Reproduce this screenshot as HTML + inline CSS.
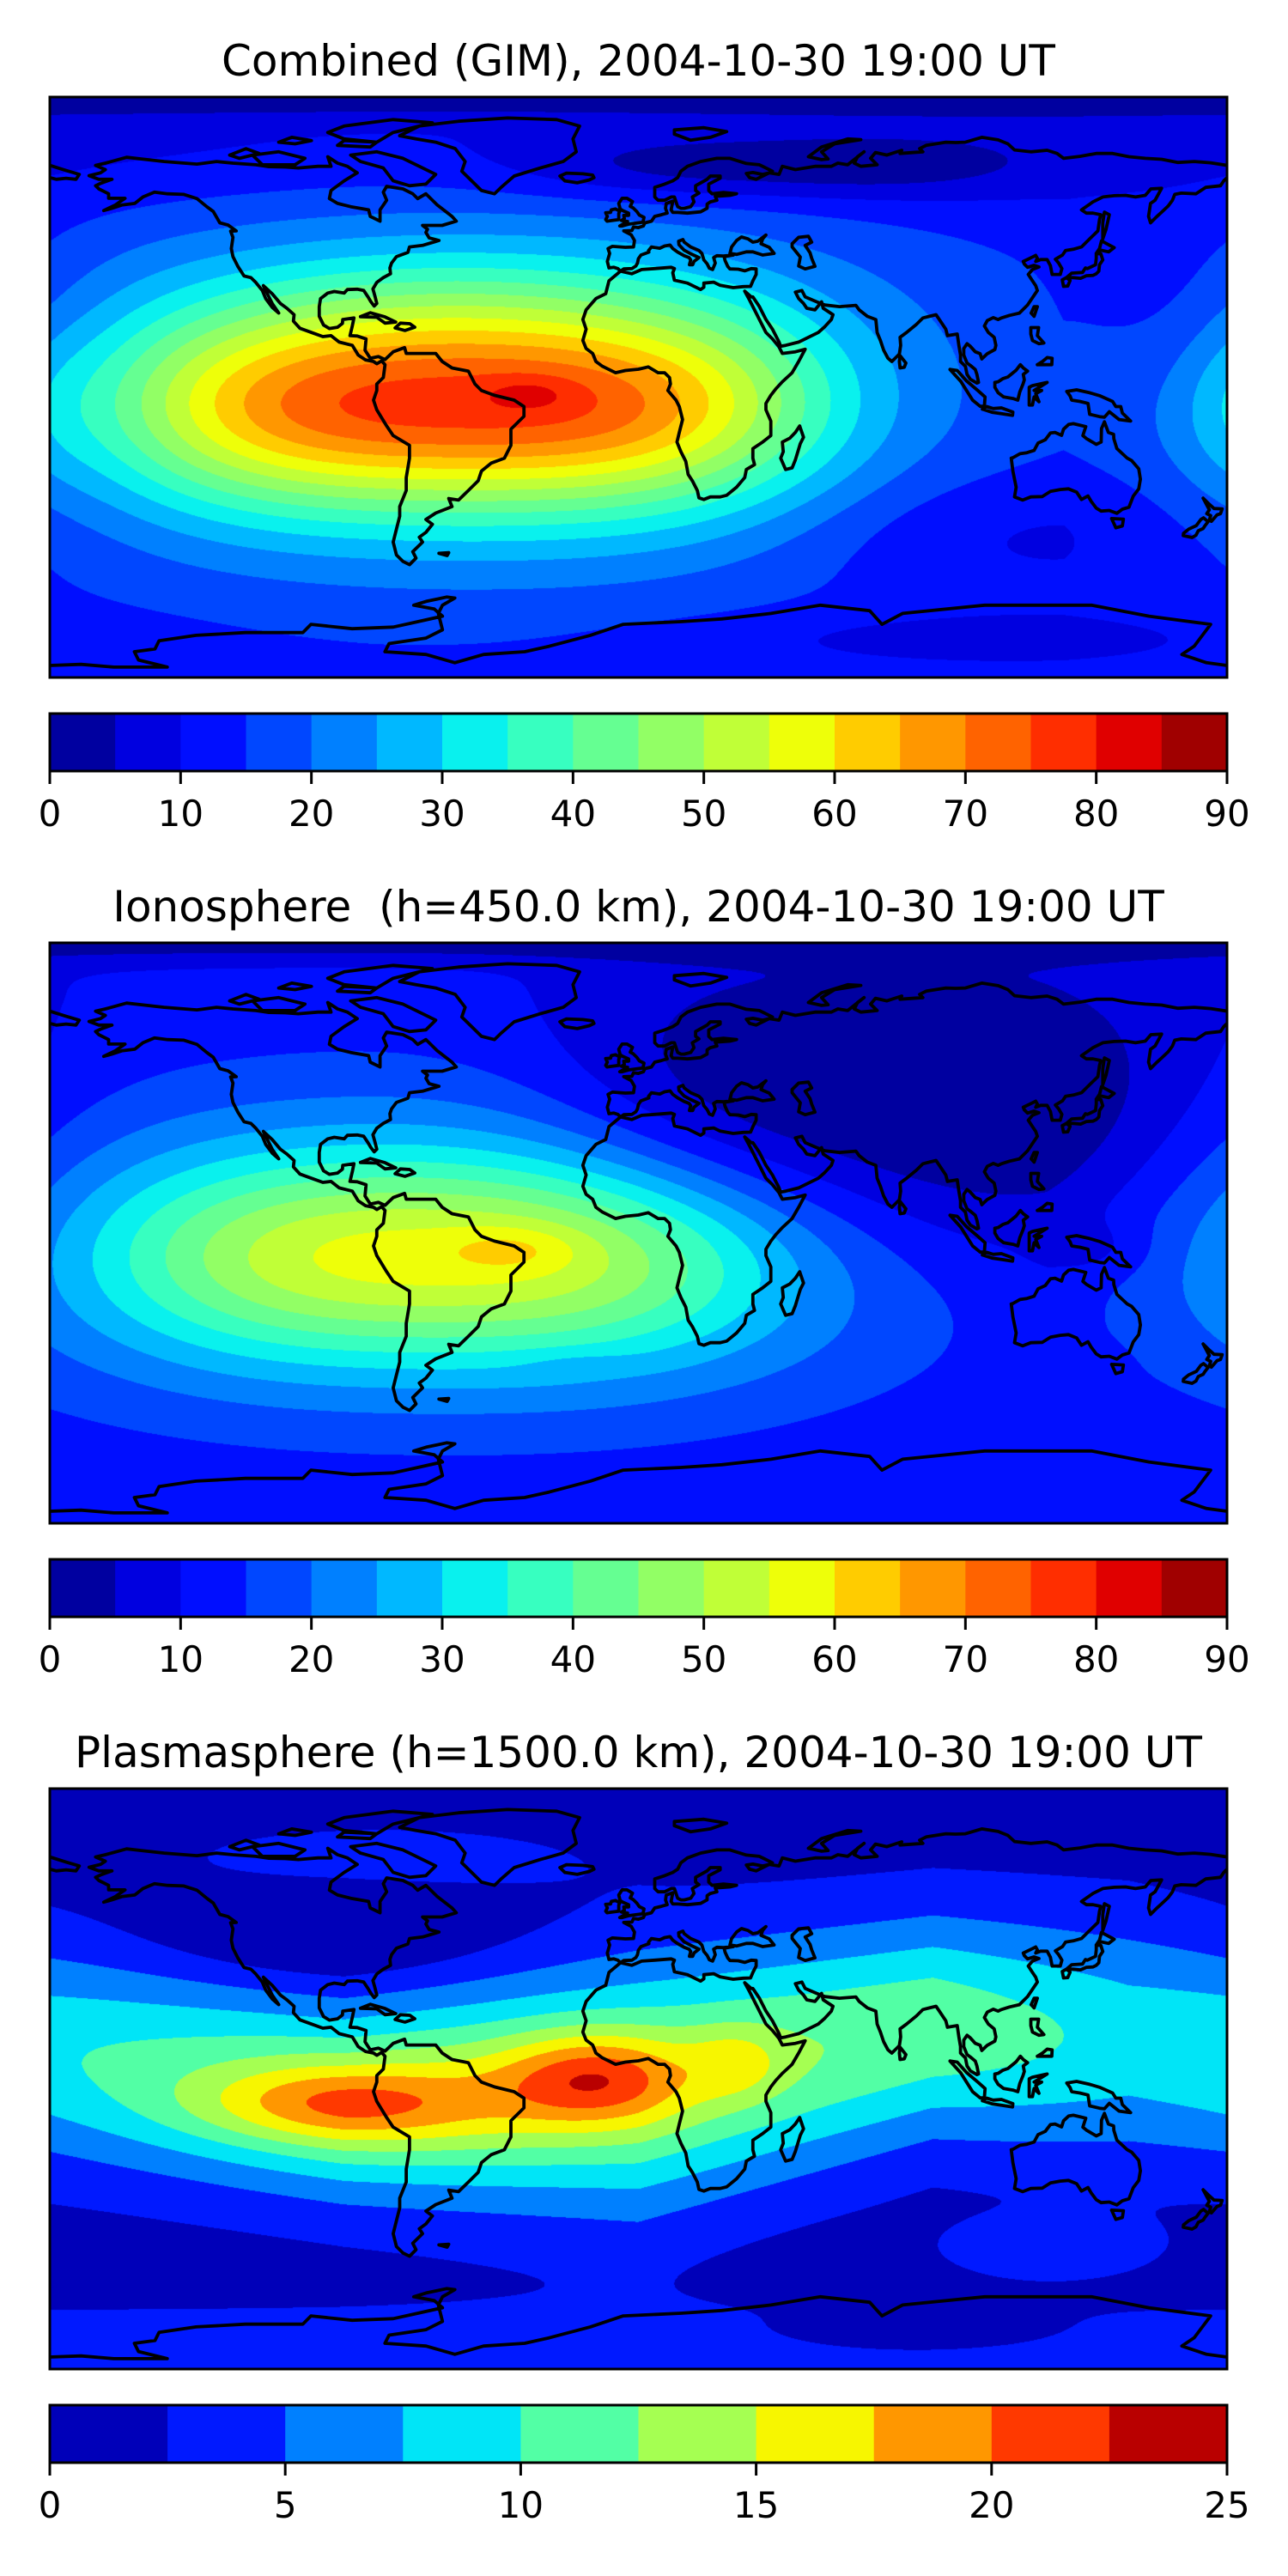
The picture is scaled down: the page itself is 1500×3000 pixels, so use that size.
<!DOCTYPE html>
<html><head><meta charset="utf-8">
<style>
html,body{margin:0;padding:0;background:#fff;}
#page{position:relative;width:1500px;height:3000px;overflow:hidden;font-family:"DejaVu Sans","Liberation Sans",sans-serif;}
canvas{position:absolute;left:58px;}
svg{position:absolute;left:0;top:0;}
</style></head>
<body>
<div id="page">
<canvas id="c1" width="1371" height="676" style="top:113px"></canvas>
<canvas id="c2" width="1371" height="676" style="top:1098px"></canvas>
<canvas id="c3" width="1371" height="676" style="top:2083px"></canvas>
<svg id="ov" width="1500" height="3000" xmlns="http://www.w3.org/2000/svg">
<text x="743.5" y="88" font-size="50" text-anchor="middle" fill="#000" font-family="DejaVu Sans, Liberation Sans, sans-serif">Combined (GIM), 2004-10-30 19:00 UT</text>
<text x="743.5" y="1073" font-size="50" text-anchor="middle" fill="#000" font-family="DejaVu Sans, Liberation Sans, sans-serif" xml:space="preserve">Ionosphere  (h=450.0 km), 2004-10-30 19:00 UT</text>
<text x="743.5" y="2058" font-size="50" text-anchor="middle" fill="#000" font-family="DejaVu Sans, Liberation Sans, sans-serif">Plasmasphere (h=1500.0 km), 2004-10-30 19:00 UT</text>
</svg>
</div>
<script>
// ---------- data ----------
const levels1 = [0,5,10,15,20,25,30,35,40,45,50,55,60,65,70,75,80,85,90];
const ticks1 = [0,10,20,30,40,50,60,70,80,90];
const levels3 = [0,2.5,5,7.5,10,12.5,15,17.5,20,22.5,25];
const ticks3 = [0,5,10,15,20,25];

// panel 1 (combined) blobs
const p1Base = 12;
const p1Lon = [-55,-50,-33,0,40,0,110,165,180,100,-60];
const p1Lat = [-6,0,-2,90,68,75,-45,25,-5,-78,25];
const p1Amp = [44,22,5,-10,-9,-5,-5,-4,4,-5,4];
const p1SLon = [85,100,10,1e4,60,1e4,45,20,12,60,40];
const p1SLat = [22,40,4,4,7,15,14,20,18,6,12];
const p1Pow = [3.5,2,2,2,3,2,2,2,2,2,2];

// panel 2 (ionosphere) blobs
const p2Base = 10;
const p2Lon = [-60,-55,-38,70,0,140,130,-20];
const p2Lat = [-8,-5,-5,35,90,-5,-40,-40];
const p2Amp = [30,18,6,-16,-8,-4,-3,-2];
const p2SLon = [80,120,14,75,1e4,12,10,12];
const p2SLat = [22,38,5,32,4,6,4,3];
const p2Pow = [3,2,2,3,2,2,2,2];

// panel 3 (plasmasphere) band + blobs
const bandLon = [-180,-90,0,90,150,180];
const bandCenter = [8,-6,-2,16,12,8];
const bandPeak = [9.5,12,13,12,9,9.5];
const bandWidth = [24,22,28,24,26,24];
const p3Base = 1.2;
const p3Lon = [-92,-70,-13,30,125,0,85,-80,-95];
const p3Lat = [-8,-8,0,5,-52,-90,-80,68,45];
const p3Amp = [6,3.5,8.5,3.5,2.5,3,-2,2.5,-3];
const p3SLon = [30,45,20,10,25,1e4,35,45,35];
const p3SLat = [8,14,10,8,7,14,5,8,10];
const p3Pow = [2,2,2,2,2,2,2,2,2];

// ---------- coastlines (lon, lat) ----------
const coasts = [
 [[-86,66.5],[-90,64],[-94,61],[-94.5,58.5],[-92,57],[-88,56],[-82.5,55],[-82,53],[-79,51.5],[-79,55],[-77,58],[-78,60.5],[-77,62.3],[-72,61.5],[-69,60],[-67.5,58.5],[-65,60],[-61.5,56.5],[-57,53],[-55.7,51.5],[-60,50.2],[-66,50.2],[-64.5,49],[-65,48],[-64,46.3],[-61,45.5],[-66,44],[-70,43.5],[-70.5,41.8],[-74,40.5],[-75.5,38.5],[-76,37],[-75.8,35.2],[-78,34],[-80,32.5],[-81.2,30.5],[-80.5,28],[-80,26],[-80.8,25.2],[-81.8,26.5],[-82.7,28],[-84,30],[-86,30.4],[-89,30.3],[-90,29.2],[-93,29.7],[-95,29.2],[-97.2,27.5],[-97.6,25],[-97.6,22],[-96.3,19.3],[-94.5,18.2],[-92,18.6],[-90.5,19.8],[-90.4,21],[-87,21.5],[-87.5,19],[-88.2,16],[-86,15.9],[-83.3,15],[-83.6,11.5],[-82,9],[-79.5,9.5],[-77.5,8.6],
  [-75,11],[-71.5,12.3],[-71,10.5],[-68,10.5],[-62,10.5],[-60,8],[-57,6],[-52,5],[-50,1],[-48,-1],[-44,-2.5],[-38,-4],[-35,-6],[-35,-9],[-39,-13],[-39,-18],[-41,-22],[-45,-23.5],[-48,-26],[-49,-29],[-52,-32],[-55,-35],[-58,-34.5],[-57,-37],[-62,-39],[-65,-41],[-63,-42.5],[-65,-45],[-67,-46.5],[-66,-48],[-69,-51],[-68,-53],[-70,-55],[-72,-54],[-74,-52],[-75,-48],[-74,-44],[-73,-40],[-73,-37],[-71,-32],[-71,-28],[-70,-22],[-70,-18],[-75,-15],[-77,-12],[-80,-7],[-81,-4],[-80,-1],[-80,1],[-78,3],[-77.5,7],
  [-78.5,8.2],[-80,7.3],[-81,8],[-83.5,8.5],[-85.7,10],[-87.5,13],[-91.5,14],[-94,16],[-96.5,15.7],[-100,17],[-103.5,18.3],[-105.5,20.5],[-105.3,22.5],[-107.5,24.5],[-109.5,26],[-112,29],[-114.7,31.5],[-113,28],[-112,26],[-110,23],[-112,24.8],[-114,27.5],[-115,30],[-117,32.5],[-118.5,34],[-120.6,34.5],[-122.5,37.5],[-124,40.5],[-124.5,43],[-124,46.5],[-124.7,48.4],[-123,48.5],[-125.5,50.3],[-128,51],[-130,54.5],[-132,56],[-135,58.5],[-139,59.8],[-144,60],[-148,60.5],[-151.5,59],[-154,57],[-158,56.5],[-161,55.5],[-163.5,54.8],[-160,56.5],[-157,58.6],[-162,58.6],[-162,60],[-165,61.5],[-166,62.5],[-164.5,63.2],[-161,64.5],[-165,64.5],[-168,65.6],[-164.5,66.5],[-163,67.5],[-166,68.8],[-163,69.5],[-156.5,71.3],[-152,70.8],[-145,70],[-140,69.6],[-135,69.2],[-129,70],[-124,69.5],[-117,69],[-113,68.4],[-108,68.3],[-104,68],[-98,68.5],[-94,68.5],[-95,71.5],[-92,69.5],[-89,68.5],[-86,66.5]],
 [[-73,78],[-67,81],[-55,82.5],[-40,83.5],[-25,83],[-18,81],[-20,77],[-19,73],[-23,70],[-30,68],[-38,65.5],[-42,62],[-44,60],[-48,61],[-51,64],[-54,67],[-53,70],[-56,74],[-62,76],[-68,77],[-73,78]],
 [[-80,73],[-72,71],[-66,68],[-62,66],[-65,63],[-70,62.5],[-75,64],[-78,68],[-85,70],[-88,72],[-80,73]],
 [[-118,72],[-110,73],[-102,71],[-105,69],[-115,69],[-118,72]],
 [[-90,77],[-80,76],[-75,79],[-63,82],[-75,83],[-90,81],[-95,79],[-90,77]],
 [[-125,72],[-120,74],[-116,72.5],[-122,71],[-125,72]],
 [[-92,75],[-82,74.5],[-80,76],[-90,76.5],[-92,75]],
 [[-110,76],[-105,75.5],[-100,76.5],[-106,77.5],[-110,76]],
 [[-85,21.9],[-82,23.1],[-77.5,21.8],[-74.2,20.2],[-77.5,19.9],[-80,21.7],[-85,21.9]],
 [[-74.4,18.4],[-72.8,19.9],[-69.9,19.7],[-68.4,18.6],[-71.4,17.6],[-74.4,18.4]],
 [[-5.5,36],[-9,33],[-10,29],[-13,27.5],[-16,24],[-17,21],[-16,18],[-17,14.5],[-16,12],[-14,10.5],[-13,8],[-11,6.5],[-7,4.5],[-4,5.2],[0,5.6],[3,6.3],[6,4.5],[8,4.5],[9.5,3],[9.8,1],[9,-1],[11.5,-4],[12.5,-6],[13.5,-10],[12.5,-14],[11.8,-17],[13,-20],[14.5,-23],[15.2,-27],[16.5,-29],[18,-32],[18.5,-34.3],[20,-34.8],[22,-34],[25,-34],[27,-33.5],[30,-31],[32.5,-28],[33,-25.5],[35.5,-24],[35,-22],[35,-19],[38,-17],[40.5,-15],[40.5,-10.5],[39,-7],[39,-5],[40.5,-2.5],[42,-0.5],[44,1.7],[47,4.5],[49,8],[51,11.8],[48,11],[44,10.5],[43,12.5],[41,15],[39,17],[37,21],[35.5,24],[34,27],[32.5,29.8],[34.5,28],[35,28],[37,25],[39,21],[41,18],[43,14],[43.5,12.7],[45,13],[49,14],[52,15.5],[55,17],[57,18.8],[59,21],[59.5,22.5],[56.5,24.5],[56,26.5],[54,24],[51.5,24.5],[50.5,26],[49,27.5],[48,29.5],[50,30],[51,28],[54.5,26.5],[57,25.5],[61.5,25],[66.5,25.4],[67.5,24],[70,22],[72.6,21],[73,17],[74,14.5],[75,11.5],[76.3,9],[77.5,8],[78.5,9],[79.8,10.3],[80.2,13],[80,15.5],[82,17],[85,19.5],[87,21.5],[89,22],[91,22.5],[92,21],[94,18],[94.5,16],[97.5,16.5],[98,13],[98.5,10],[98.5,8],[100,6.5],[100.5,4],[101.5,2.5],[103.5,1.3],[104,1.5],[103.5,4],[103,5.5],[101.5,6.8],[100.5,7.5],[99.5,10],[99.5,12],[100.5,13.5],[101.5,12.7],[103,11],[104.5,10.4],[105,8.8],[106.7,10.4],[109,11.7],[109.3,13],[108.8,15.5],[107,17],[105.8,19],[106.7,20.7],[108.5,21.6],[110,21],[111,21.5],[113.5,22.3],[116.5,23],[119,25.5],[120,27],[122,30],[121.5,31.5],[120.5,33],[119.2,35],[120.5,36.5],[122.5,37.3],[121,37.8],[119,37.2],[118,38.2],[117.7,39],[119.5,39.9],[121.5,40.9],[122,40],[121.5,39],[123,39.6],[125,39.6],[126,37.7],[126.5,35],[129,35],[129.5,36.8],[128.5,38.5],[127.5,39.7],[129.7,41],[130.6,42.4],[133,42.8],[135.5,43.5],[138,46],[140.5,48.5],[141,52],[141.4,53.5],[139,54],[137,54],[135.5,55],[139,57.5],[142,59],[145.5,59.4],[149,59.5],[152,59],[155,59.5],[156.7,61.5],[160,61.7],[158,58],[156.6,57],[156,53],[156.6,51],[158.5,52.9],[160,54.3],[162,56.2],[163.3,58],[164,59.8],[166,60.2],[170.5,60],[173.5,62],[178,62.5],[179,64],[180,65]],
 [[180,68.8],[175,69.6],[170,70],[165,69.7],[160,70.7],[155,71],[150,71.5],[145,72.5],[140,72.5],[135,71.6],[130,71],[128,72.5],[125,73.5],[120,73],[115,73.6],[113,75.5],[110,76.7],[105,77.5],[100,76],[97,75.9],[94,76],[88,75],[86,74],[87,73],[80,72.5],[80.5,73.5],[76,72],[72.5,72.8],[71,71],[73,69],[68,68.5],[66,69.5],[67,71.5],[69,73],[64,69],[61,69.5],[59,68.5],[54,68.5],[48,67.5],[44,68.5],[43,66],[40,66.5],[38,66],[35,66.6],[33,66.3],[34,65],[36,64.5],[41,67],[37,69],[33,69.4],[28,71],[24,71],[19,70],[15,68.5],[13,67],[12,65],[10.5,64],[8,63],[5,62],[5,59],[6,58],[8,58],[10,59],[11,59],[12,56],[13,55.5],[14,55.5],[16,56],[17,57.5],[16.5,59],[18.5,60.2],[17.5,61],[17.5,62.5],[21,64.5],[22,65.5],[25,65.5],[25,64.8],[21.5,63],[21.5,61],[22.5,60],[26,60.4],[30,60],[28,59.5],[23.5,59.2],[24,58],[22,57.5],[21,56.8],[21,55.5],[19,54.4],[15,54],[12,54.2],[10.5,54.2],[10,55],[10.5,57.7],[8.5,57],[8.3,55.5],[8.8,54],[7,53.5],[5,53],[4,51.5],[2,51],[1.5,50],[0,49.5],[-1.5,49.7],[-2,48.6],[-4.5,48.5],[-2.2,47.3],[-1.2,45.5],[-1.5,43.5],[-4,43.4],[-8,43.7],[-9.3,43],[-8.8,41.5],[-9.5,39],[-9,37],[-7.5,37.2],[-6.3,36.8],[-5.5,36]],
 [[-180,65],[-178,64.5],[-175,64.8],[-172,64.5],[-171,66],[-175,67.2],[-180,68.8]],
 [[-5.5,36],[-2,35.2],[1,36.5],[5,36.8],[10,37.2],[11,36.8],[10.5,35.5],[11,33.2],[15,32.3],[19,30.3],[20,31],[20,32.3],[23,32.6],[25,31.6],[29,30.9],[32,31.2],[34.3,31.3],[35,33],[36,35],[36,36.7],[34.5,36.8],[32.5,36.1],[30.5,36.6],[28,36.7],[27.3,37.5],[26.5,39.3],[26.2,40.5],[29,41],[26,40.7],[24,40.8],[23,40.2],[23.5,38.5],[22.7,36.5],[21.7,36.9],[21,38.3],[20,39.5],[19.4,41.5],[18.5,42.4],[16,43.5],[14,45],[13.6,45.8],[12.3,45.3],[12.4,44.2],[14,42.5],[16,41.4],[18.5,40.2],[17,39],[16.6,38],[15.6,38],[16,39.5],[15.5,40.2],[14,40.8],[12,41.9],[10.5,43],[9.7,44.1],[8,43.8],[6.5,43.1],[4,43.5],[3.1,42.4],[3.2,41.9],[0.8,41],[0,39.9],[-0.3,38.5],[-0.8,37.6],[-2,36.8],[-4.5,36.7],[-5.5,36]],
 [[28,41.5],[28.5,43.5],[30,45.5],[31.5,46.6],[33.5,46],[35,45],[36.5,45.3],[39,47.2],[38,46],[37.5,44.5],[40,43.4],[41.5,41.5],[38,41],[35,42],[33,42],[30,41.2],[28,41.5]],
 [[47,44.5],[49,46.5],[52,46.8],[53,45],[51,44],[52.5,41.7],[53,40],[54,37.5],[51,36.7],[49,37.6],[49.5,40.4],[47,43.5],[47,44.5]],
 [[-5,50],[-3,50.6],[1.4,51.2],[1.7,52.7],[0.3,53.4],[-0.5,54.5],[-1.6,55.6],[-2.5,56.1],[-1.8,57.6],[-3.5,58.6],[-5,58.6],[-6,57],[-5.6,55.3],[-4.8,54.8],[-3,54],[-3,53.3],[-4.5,53.3],[-4.3,52.3],[-5.2,51.7],[-3.3,51.4],[-5.7,50],[-5,50]],
 [[-6,52],[-6,53.9],[-5.7,54.6],[-7,55.3],[-8.3,55],[-8.5,54.2],[-10,54.1],[-9.5,53],[-10,52],[-9.6,51.5],[-8,51.7],[-6,52]],
 [[-22.5,64],[-24,65.5],[-22,66.4],[-17,66.2],[-14,65.8],[-13.6,65],[-15,64.3],[-18.7,63.4],[-22.5,64]],
 [[11,78.5],[16,76.6],[22,77.5],[27,79.3],[20,80.5],[11,79.8],[11,78.5]],
 [[52,71.5],[56,70.6],[58,70.8],[56,73],[60,75.5],[68,76.8],[64,77],[56,74.5],[52,71.5]],
 [[49.3,-12],[50.5,-15.5],[49.5,-17.5],[48,-22.5],[47,-25],[45,-25.5],[43.5,-22],[44.3,-20],[44,-17],[46.3,-15.8],[48,-14],[49.3,-12]],
 [[79.8,8],[80,9.8],[81.8,7.5],[81.3,6.2],[80,6],[79.8,8]],
 [[130.9,34],[132.5,35.4],[135.8,35.6],[136.7,37],[137.3,36.8],[139.8,38],[140,40],[140,41.4],[141.4,41.4],[142,39.5],[141,38],[140.8,36],[140,35.2],[139,34.7],[137,34.6],[135.2,33.8],[133,34],[130.9,34]],
 [[130,31.3],[131.3,31.4],[132,33.1],[130.9,34],[129.6,33.3],[130,31.3]],
 [[140,41.5],[141,43],[141.6,45.4],[144,44.1],[145.5,43.3],[143.8,42],[141.4,42.5],[140,41.5]],
 [[142,46],[143,49],[144,53.5],[142.5,54.3],[142,51],[142,46]],
 [[120.1,23],[121,25],[122,25],[121,22],[120.1,23]],
 [[120,18.5],[122.4,18.5],[122,16],[124,13.7],[122.5,13.5],[120.5,14.5],[120,16.5],[120,18.5]],
 [[122,7],[126.4,7],[126.5,9],[125,9.2],[123.7,8.1],[122,7]],
 [[109,1.5],[110,1.7],[111.5,2.7],[113,3.2],[115.5,5.3],[116.8,7],[117.7,6],[119,5],[117.7,4],[118,2.3],[117.6,1],[116.6,-1.5],[116,-4],[114.5,-3.5],[111.7,-3],[110,-1.7],[109,0],[109,1.5]],
 [[95.3,5.5],[97.5,5.2],[100.3,2],[103.8,-1],[106,-3],[105.8,-5.9],[104.5,-5.9],[102.2,-4],[100.1,-0.6],[98.6,1.8],[95.3,5.5]],
 [[105.2,-6.8],[106.5,-6],[108.5,-6.6],[111,-6.4],[114.5,-7.7],[114.4,-8.7],[111,-8.2],[108.3,-7.8],[105.2,-6.8]],
 [[119.5,-5.5],[119.5,0],[120.5,0.5],[124.5,1.4],[125,1.5],[121,-1],[123.3,-1],[121.5,-2],[122.5,-4.5],[121,-3],[120.5,-5.5],[119.5,-5.5]],
 [[131,-1.3],[134,-0.8],[138,-1.7],[141,-2.6],[145,-4.4],[146,-6],[147.5,-6],[148,-8],[150.5,-10.5],[147,-10],[144,-7.6],[142.5,-9.3],[141,-9.1],[138,-8.4],[137.5,-5],[135,-4.4],[132.5,-4],[132,-2.7],[131,-1.3]],
 [[114,-22],[114.5,-26],[115.5,-31],[115,-34],[117.5,-35],[120,-34],[123.5,-33.9],[126,-32.3],[129,-31.7],[131.5,-31.5],[134,-32.5],[135.5,-34.8],[137.5,-33.7],[138.4,-35.3],[140,-37.5],[141.5,-38.4],[144,-38.2],[146.3,-39.1],[148,-37.8],[150,-37.2],[151.3,-33.8],[153,-31.5],[153.5,-28.5],[153,-25.3],[150.8,-22.7],[149.5,-22],[146.3,-19],[145.4,-16],[145.3,-14.6],[143.7,-14],[142.5,-10.7],[141.6,-12.8],[141.5,-17],[140,-17.7],[137,-15.9],[135.9,-15],[136.8,-12.2],[133,-11.3],[131.6,-11.5],[130,-13],[129.4,-14.9],[127.4,-14],[126,-14.2],[124.4,-16.3],[122.2,-17.3],[121,-19.6],[118.8,-20.3],[116.7,-20.6],[114.6,-21.8],[114,-22]],
 [[144.7,-40.7],[148.3,-40.9],[148,-43],[146,-43.6],[144.7,-40.7]],
 [[172.7,-34.4],[174.6,-36.3],[176,-37.6],[178.5,-37.7],[178,-39.2],[176.9,-39.6],[175.2,-41.6],[174.6,-41.2],[175,-39.8],[173.8,-39.2],[174.6,-38],[172.7,-34.4]],
 [[172.8,-40.5],[174.2,-41.7],[173.2,-43],[172.7,-43.8],[171.2,-44.5],[170.5,-45.9],[169.3,-46.6],[166.6,-46],[166.7,-45.3],[168.3,-44],[170.6,-42.9],[172,-41],[172.8,-40.5]],
 [[-61,-51.5],[-58,-51.3],[-58.5,-52.2],[-61,-51.5]]
];
const antTrace = [[62,1215],[100,1213],[140,1218],[205,1218],[170,1205],[165,1190],[190,1185],[195,1170],[240,1160],[300,1155],[370,1155],[380,1140],[430,1148],[480,1145],[510,1135],[540,1125],[530,1112],[505,1105],[520,1098],[545,1090],[555,1092],[540,1105],[535,1120],[540,1150],[520,1165],[475,1175],[470,1190],[520,1195],[555,1210],[590,1195],[640,1190],[670,1180],[720,1160],[760,1140],[830,1135],[880,1130],[940,1120],[1000,1105],[1060,1115],[1075,1140],[1100,1120],[1200,1105],[1330,1105],[1400,1125],[1475,1140],[1455,1180],[1440,1195],[1470,1210],[1495,1215]];

// ---------- helpers ----------
const MX = 58, MW = 1371, MH = 676;
const mapTops = [113,1098,2083];
function jet(t){
  function seg(pts){for(let i=1;i<pts.length;i++){if(t<=pts[i][0]){const a=pts[i-1],b=pts[i];return a[1]+(b[1]-a[1])*(t-a[0])/(b[0]-a[0]);}}return pts[pts.length-1][1];}
  const r=seg([[0,0],[0.35,0],[0.66,1],[0.89,1],[1,0.5]]);
  const g=seg([[0,0],[0.125,0],[0.375,1],[0.64,1],[0.91,0],[1,0]]);
  const b=seg([[0,0.5],[0.11,1],[0.34,1],[0.65,0],[1,0]]);
  return [Math.round(r*255),Math.round(g*255),Math.round(b*255)];
}
function levelColors(levels){const n=levels.length-1;const out=[];for(let i=0;i<n;i++)out.push(jet((i+0.5)/n));return out;}
function blobs(lon,lat,L,La,A,SL,SA,P){
  let v=0;
  for(let i=0;i<L.length;i++){
    let dl=lon-L[i]; if(dl>180)dl-=360; if(dl<-180)dl+=360;
    const dx=Math.abs(dl)/SL[i], dy=(lat-La[i])/SA[i];
    v+=A[i]*Math.exp(-0.5*(Math.pow(dx,P[i])+dy*dy));
  }
  return v;
}
function lerpArr(x,xs,ys){for(let i=1;i<xs.length;i++){if(x<=xs[i]){const t=(x-xs[i-1])/(xs[i]-xs[i-1]);return ys[i-1]+(ys[i]-ys[i-1])*t;}}return ys[ys.length-1];}
const fields = [
  (lon,lat)=>p1Base+blobs(lon,lat,p1Lon,p1Lat,p1Amp,p1SLon,p1SLat,p1Pow),
  (lon,lat)=>p2Base+blobs(lon,lat,p2Lon,p2Lat,p2Amp,p2SLon,p2SLat,p2Pow),
  (lon,lat)=>{const c=lerpArr(lon,bandLon,bandCenter),pk=lerpArr(lon,bandLon,bandPeak),w=lerpArr(lon,bandLon,bandWidth);const d=(lat-c)/w;
    return p3Base+(pk-p3Base)*Math.exp(-0.5*d*d)+blobs(lon,lat,p3Lon,p3Lat,p3Amp,p3SLon,p3SLat,p3Pow);}
];
const panelLevels=[levels1,levels1,levels3];
['c1','c2','c3'].forEach((id,k)=>{
  const cv=document.getElementById(id),ctx=cv.getContext('2d');
  const img=ctx.createImageData(MW,MH),d=img.data;
  const lv=panelLevels[k],cols=levelColors(lv),n=lv.length-1,lo=lv[0],step=lv[1]-lv[0];
  for(let y=0;y<MH;y++){const lat=90-(y+0.5)/MH*180;
    for(let x=0;x<MW;x++){const lon=(x+0.5)/MW*360-180;
      let v=fields[k](lon,lat);let idx=Math.floor((v-lo)/step);if(idx<0)idx=0;if(idx>n-1)idx=n-1;
      const c=cols[idx],p=(y*MW+x)*4;d[p]=c[0];d[p+1]=c[1];d[p+2]=c[2];d[p+3]=255;}}
  ctx.putImageData(img,0,0);
});

// ---------- overlay ----------
const NS='http://www.w3.org/2000/svg';
const ov=document.getElementById('ov');
function mk(tag,attrs){const e=document.createElementNS(NS,tag);for(const k in attrs)e.setAttribute(k,attrs[k]);return e;}
const antLL=antTrace.map(p=>[(p[0]-62)/1433*360-180,90-(p[1]-177)/1060*180]);
const allCoasts=coasts.concat([antLL]);
const names=['combined','ionosphere','plasmasphere'];
mapTops.forEach((top,k)=>{
  const cp=mk('clipPath',{id:'clip'+k});cp.appendChild(mk('rect',{x:MX,y:top,width:MW,height:MH}));ov.appendChild(cp);
  const g=mk('g',{'clip-path':'url(#clip'+k+')'});
  
  
  let dstr='';
  allCoasts.forEach(line=>{line.forEach((p,i)=>{const x=MX+(p[0]+180)/360*MW,y=top+(90-p[1])/180*MH;dstr+=(i?'L':'M')+x.toFixed(1)+' '+y.toFixed(1);});});
  const path=mk('path',{d:dstr,fill:'none',stroke:'#000','stroke-width':3.8,'stroke-linejoin':'round','stroke-linecap':'round'});
  
  
  g.appendChild(path);ov.appendChild(g);
  const fr=mk('rect',{x:MX,y:top,width:MW,height:MH,fill:'none',stroke:'#000','stroke-width':3});
  
  
  ov.appendChild(fr);
  const lv=panelLevels[k],cols=levelColors(lv),n=lv.length-1,ticks=k<2?ticks1:ticks3;
  const cbTop=top+718,cbH=67;
  const cb=mk('g',{});
  
  
  const xs=v=>MX+(v-lv[0])/(lv[n]-lv[0])*MW;
  for(let i=0;i<n;i++){const x0=xs(lv[i]),x1=xs(lv[i+1]);
    const r=mk('rect',{x:x0,y:cbTop,width:x1-x0+0.6,height:cbH,fill:'rgb('+cols[i].join(',')+')'});
    
    
    cb.appendChild(r);}
  cb.appendChild(mk('rect',{x:MX,y:cbTop,width:MW,height:cbH,fill:'none',stroke:'#000','stroke-width':3}));
  ticks.forEach(t=>{const x=xs(t);
    cb.appendChild(mk('line',{x1:x,x2:x,y1:cbTop+cbH,y2:cbTop+cbH+15,stroke:'#000','stroke-width':3}));
    const tx=mk('text',{x:x,y:cbTop+cbH+64,'font-size':42,'text-anchor':'middle',fill:'#000','font-family':'DejaVu Sans, Liberation Sans, sans-serif'});
    
    
    tx.textContent=String(t);cb.appendChild(tx);});
  ov.appendChild(cb);
});
</script>
</body></html>
